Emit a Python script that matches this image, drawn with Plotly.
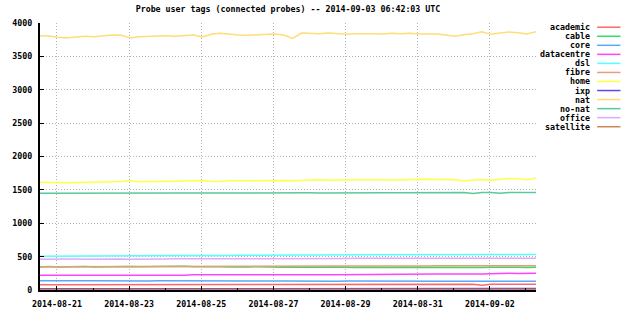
import pandas as pd
import plotly.graph_objects as go

times = pd.date_range("2014-08-20 12:42", periods=56, freq="6h")

names = ["academic", "cable", "core", "datacentre", "dsl", "fibre", "home",
         "ixp", "nat", "no-nat", "office", "satellite"]
colors = ["#ff6666", "#33dd66", "#55aaff", "#ff44ff", "#55ffff", "#ee9977",
          "#ffff44", "#6644ee", "#ffdd77", "#55cc99", "#ddaaff", "#cc8855"]

academic = [80,80,81,80,82,78,80,81,82,80,83,82,84,83,82,84,83,85,84,83,85,84,86,85,84,86,85,87,86,85,87,86,85,87,86,88,87,86,87,88,87,86,88,87,86,87,88,87,86,72,86,87,88,87,86,88]
cable = [346,352,344,350,347,353,345,349,351,346,352,348,350,345,352,349,354,347,351,345,349,344,350,346,348,343,347,342,346,341,345,340,344,339,342,338,341,337,340,336,339,338,341,337,340,338,342,339,341,337,340,343,339,341,338,340]
core = [140,142,138,140,141,139,140,138,140,139,137,138,136,138,137,136,138,137,135,136,137,135,136,134,135,136,134,135,133,134,135,133,134,132,133,134,132,133,131,132,133,131,132,130,131,132,130,131,130,132,131,130,131,130,129,130]
datacentre = [220,221,220,222,221,220,222,221,222,220,221,222,221,220,222,221,222,
              230,231,230,229,231,230,232,230,231,230,229,231,230,232,231,230,229,231,230,232,231,230,
              240,241,239,240,242,240,241,239,240,241,240,242,
              250,251,249,250,251]
dsl = [505,505,508,505,506,508,510,508,510,512,512,510,512,515,514,516,515,518,516,518,520,518,520,522,520,521,522,520,522,524,523,525,524,526,528,526,528,530,528,527,528,530,529,528,530,532,530,531,530,532,531,530,532,530,531,530]
fibre = [348,348,350,349,350,350,351,350,352,351,352,352,353,352,353,354,353,354,355,354,355,355,356,356,355,357,356,357,358,357,358,358,359,358,359,360,359,360,361,360,361,361,362,361,362,362,361,362,363,362,363,362,363,364,363,364]
home = [1615,1612,1600,1605,1610,1612,1608,1615,1620,1625,1640,1620,1625,1630,1635,1630,1632,1635,1640,1630,1625,1635,1640,1638,1635,1640,1645,1640,1638,1645,1648,1650,1645,1650,1648,1652,1650,1655,1650,1648,1652,1655,1650,1658,1655,1650,1652,1635,1650,1655,1645,1660,1670,1665,1650,1680]
ixp = [18,18,19,18,19,19,20,19,20,20,19,20,20,21,20,20,21,20,21,21,20,21,21,22,21,21,22,21,22,22,21,22,22,23,22,22,23,22,23,23,22,23,23,24,23,23,24,23,24,24,23,24,24,25,24,24]
nat = [3810,3805,3785,3775,3790,3800,3795,3810,3820,3815,3775,3795,3800,3805,3810,3800,3815,3820,3790,3830,3845,3830,3820,3815,3825,3830,3835,3820,3770,3850,3845,3840,3850,3845,3830,3840,3845,3840,3835,3845,3840,3845,3835,3840,3835,3820,3800,3825,3840,3870,3830,3850,3865,3855,3835,3870]
nonat = [1450,1451,1448,1450,1452,1450,1449,1451,1450,1450,1452,1451,1450,1451,1452,1453,1452,1454,1453,1452,1454,1455,1454,1453,1455,1456,1455,1454,1456,1457,1456,1455,1457,1458,1457,1456,1458,1459,1458,1457,1458,1459,1460,1459,1458,1460,1459,1460,1445,1460,1459,1450,1460,1461,1460,1461]
office = [462,465,460,462,464,462,465,463,466,465,462,460,465,466,464,467,466,468,466,468,467,469,468,470,468,470,469,471,470,472,471,472,473,471,472,474,473,472,474,473,474,475,474,473,475,474,476,475,474,476,475,474,476,475,474,476]
satellite = [6,6,6,7,6,6,7,6,7,7,6,7,7,7,6,7,7,8,7,7,8,7,8,8,7,8,8,7,8,8,8,7,8,8,9,8,8,9,8,9,9,8,9,9,8,9,9,9,8,9,9,10,9,9,10,9]

series = [academic, cable, core, datacentre, dsl, fibre, home, ixp, nat, nonat, office, satellite]
for s in series:
    assert len(s) == len(times), len(s)

W, H = 640, 321
L, R, T, B = 37, 104, 23, 25
pw, ph = W - L - R, H - T - B

FONT = "DejaVu Sans Mono"

fig = go.Figure()
for name, color, vals in zip(names, colors, series):
    fig.add_trace(go.Scatter(x=times, y=vals, mode="lines", name=name,
                             line=dict(color=color, width=1.5), showlegend=False))

def px(x):
    return (x - L) / pw

def py(y):
    return (H - B - y) / ph

annotations = []
shapes = []
for i, (name, color) in enumerate(zip(names, colors)):
    yy = 27.3 + i * 9.25
    annotations.append(dict(xref="paper", yref="paper", x=px(592.5), y=py(yy),
                            xanchor="right", yanchor="middle", text=name, showarrow=False,
                            font=dict(family=FONT, size=8.3, color="black", weight="bold")))
    shapes.append(dict(type="line", xref="paper", yref="paper",
                       x0=px(597.5), x1=px(621), y0=py(yy), y1=py(yy),
                       line=dict(color=color, width=1.5)))

fig.update_layout(
    width=W, height=H,
    margin=dict(l=L, r=R, t=T, b=B, pad=0),
    paper_bgcolor="white", plot_bgcolor="white",
    font=dict(family=FONT, size=8.3, color="black", weight="bold"),
    title=dict(text="Probe user tags (connected probes) -- 2014-09-03 06:42:03 UTC",
               x=px(286.5), xref="paper", xanchor="center",
               y=1 - 9.5 / H, yref="container", yanchor="middle",
               font=dict(family=FONT, size=8.3, color="black", weight="bold")),
    annotations=annotations,
    shapes=shapes,
    showlegend=False,
)
fig.update_xaxes(
    range=["2014-08-20 12:42", "2014-09-03 06:42"],
    tick0="2014-08-21", dtick=2 * 86400000, tickformat="%Y-%m-%d",
    ticks="inside", ticklen=4, tickcolor="black", tickwidth=1,
    minor=dict(dtick=86400000, tick0="2014-08-21", ticks="inside", ticklen=2,
               tickcolor="black", showgrid=False),
    showgrid=True, gridcolor="#b4b4b4", griddash="1px,2px", gridwidth=1,
    showline=True, linecolor="black", linewidth=2,
    zeroline=False, ticklabelstandoff=5,
)
fig.update_yaxes(
    range=[0, 4000], dtick=500, tick0=0,
    ticks="inside", ticklen=4, tickcolor="black", tickwidth=1,
    showgrid=True, gridcolor="#b4b4b4", griddash="1px,2px", gridwidth=1,
    showline=True, linecolor="black", linewidth=2,
    zeroline=False, ticklabelstandoff=4,
)

fig.write_html("out.html")
